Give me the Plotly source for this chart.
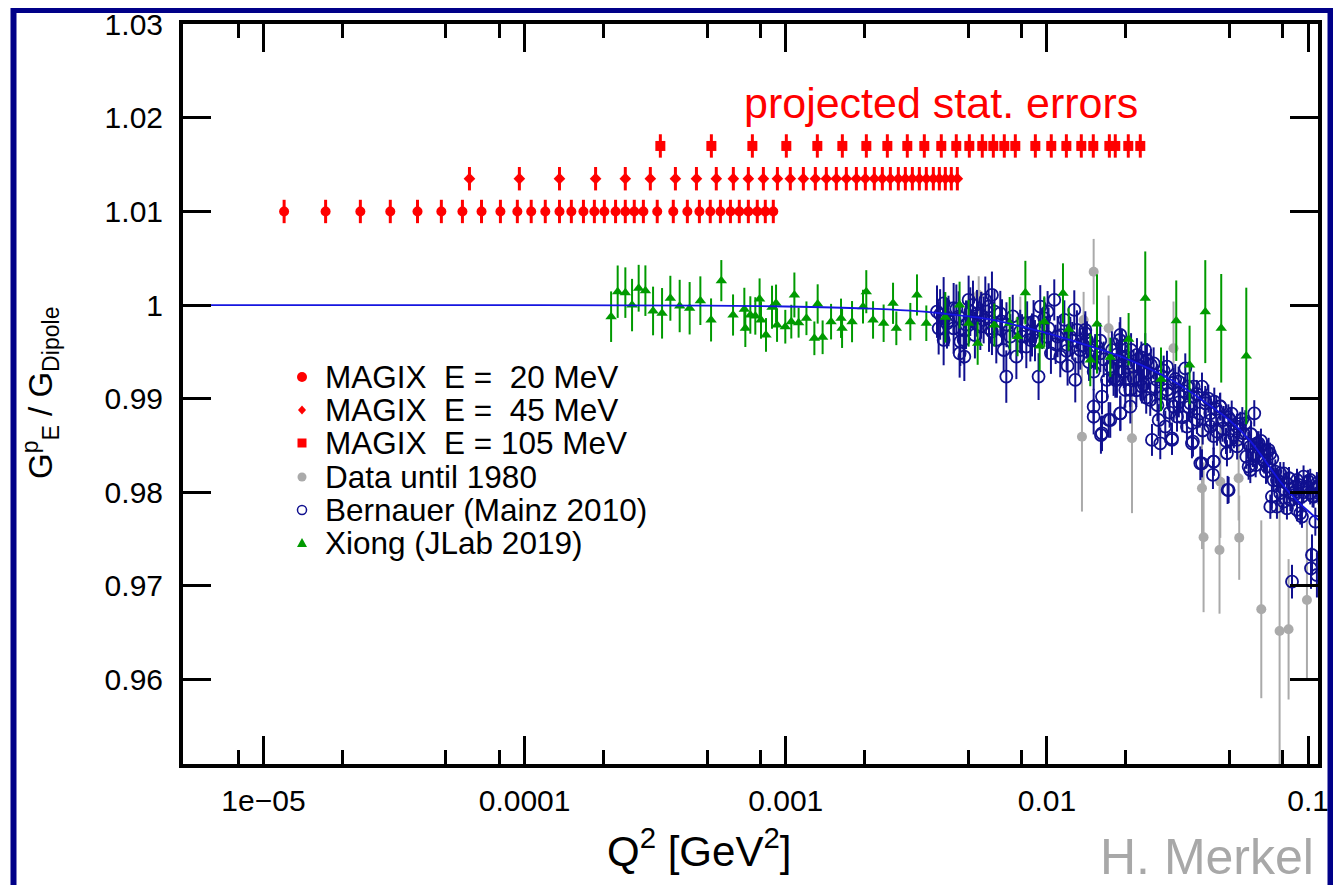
import plotly.graph_objects as go

# ---------------- data ----------------
# MAGIX projected points
magix20_q2 = [1.2e-5, 1.73e-5, 2.35e-5, 3.06e-5, 3.89e-5, 4.8e-5, 5.78e-5, 6.84e-5, 8.08e-5, 9.38e-5,
              1.06e-4, 1.2e-4, 1.36e-4, 1.51e-4, 1.68e-4, 1.85e-4, 2.02e-4, 2.23e-4, 2.43e-4, 2.63e-4,
              2.85e-4, 3.22e-4, 3.71e-4, 4.2e-4, 4.67e-4, 5.14e-4, 5.62e-4, 6.14e-4, 6.64e-4, 7.19e-4,
              7.78e-4, 8.35e-4, 8.96e-4]
magix20_val = 1.010
magix45_q2 = [6.15e-5, 9.55e-5, 1.36e-4, 1.87e-4, 2.43e-4, 3.03e-4, 3.78e-4, 4.55e-4, 5.42e-4, 6.3e-4,
              7.19e-4, 8.21e-4, 9.29e-4, 1.041e-3, 1.168e-3, 1.298e-3, 1.43e-3, 1.562e-3, 1.706e-3, 1.864e-3,
              2.017e-3, 2.183e-3, 2.343e-3, 2.515e-3, 2.698e-3, 2.87e-3, 3.053e-3, 3.247e-3, 3.453e-3, 3.673e-3,
              3.873e-3, 4.083e-3, 4.305e-3, 4.54e-3]
magix45_val = 1.0135
magix105_q2 = [3.31e-4, 5.19e-4, 7.45e-4, 1.005e-3, 1.321e-3, 1.647e-3, 2.035e-3, 2.449e-3, 2.92e-3, 3.393e-3,
               3.94e-3, 4.497e-3, 5.045e-3, 5.656e-3, 6.234e-3, 6.868e-3, 7.568e-3, 9.03e-3, 1.039e-2, 1.187e-2,
               1.354e-2, 1.505e-2, 1.734e-2, 1.827e-2, 2.049e-2, 2.278e-2]
magix105_val = 1.017
magix_err = 0.00125

# Xiong (JLab 2019)
xiong_q2 = [2.144e-4, 2.272e-4, 2.431e-4, 2.579e-4, 2.734e-4, 2.901e-4, 3.104e-4, 3.36e-4, 3.615e-4, 3.925e-4,
            4.285e-4, 4.71e-4, 5.176e-4, 5.666e-4, 6.283e-4, 6.941e-4, 7.002e-4, 7.317e-4, 7.646e-4, 7.94e-4,
            8.04e-4, 8.4e-4, 8.86e-4, 9.18e-4, 9.26e-4, 9.96e-4, 1.05e-3, 1.079e-3, 1.12e-3, 1.2e-3,
            1.287e-3, 1.325e-3, 1.384e-3, 1.491e-3, 1.628e-3, 1.643e-3, 1.794e-3, 1.976e-3, 2.034e-3, 2.159e-3,
            2.37e-3, 2.575e-3, 2.651e-3, 2.999e-3, 3.18e-3, 3.453e-3, 4.083e-3, 4.63e-3, 5.014e-3, 5.43e-3,
            6.29e-3, 7.2e-3, 7.72e-3, 8.27e-3, 9.38e-3, 9.77e-3, 1.152e-2, 1.211e-2, 1.466e-2, 1.555e-2,
            1.749e-2, 2.055e-2, 2.38e-2, 2.734e-2, 3.128e-2, 3.518e-2, 4.04e-2, 4.65e-2, 5.8e-2]
xiong_val = [0.99876, 1.00143, 1.00133, 1.0, 1.0018, 1.00154, 0.99937, 0.99912, 1.00073, 0.9999,
             0.99966, 1.00047, 0.99841, 1.00261, 0.99894, 0.99955, 0.99752, 0.99894, 0.99884, 1.00065,
             0.99841, 0.99681, 0.99977, 1.00019, 0.99787, 0.99769, 0.99823, 1.00108, 0.99812, 0.99859,
             0.99645, 1.00012, 0.99656, 0.99823, 0.99859, 0.99752, 0.99823, 0.99983, 1.00143, 0.99841,
             0.99806, 1.00019, 0.99752, 0.99823, 1.00108, 0.99806, 0.99869, 1.0, 0.99806, 0.99592,
             0.99787, 0.99806, 0.99663, 1.00133, 0.99563, 0.99823, 1.00126, 0.99741, 0.99413, 0.99798,
             0.99442, 0.99635, 1.00073, 0.99207, 0.99833, 0.9936, 0.9993, 0.99752, 0.99456]
xiong_err = [0.0027, 0.0028, 0.0027, 0.0028, 0.0025, 0.0027, 0.0026, 0.0027, 0.0024, 0.0028,
             0.0028, 0.0026, 0.0023, 0.0022, 0.0022, 0.0023, 0.002, 0.002, 0.002, 0.0022,
             0.002, 0.0018, 0.0023, 0.002, 0.0018, 0.0018, 0.0018, 0.0024, 0.0016, 0.0018,
             0.0018, 0.0021, 0.0018, 0.0019, 0.0021, 0.0021, 0.0022, 0.0018, 0.0023, 0.002,
             0.002, 0.0022, 0.0018, 0.002, 0.0022, 0.0019, 0.0027, 0.0025, 0.0025, 0.0023,
             0.0023, 0.0028, 0.0021, 0.0034, 0.0027, 0.0027, 0.0032, 0.0023, 0.0028, 0.0053,
             0.0021, 0.0028, 0.005, 0.0034, 0.0043, 0.0042, 0.0055, 0.0058, 0.0073]

# Data until 1980
old_q2 = [5.48e-3, 7.91e-3, 1.382e-2, 1.51e-2, 1.723e-2, 1.362e-2, 2.117e-2, 3.053e-2, 3.924e-2, 4.612e-2,
          5.42e-2, 3.98e-2, 4.58e-2, 5.45e-2, 6.62e-2, 7.78e-2, 8.42e-2, 9.9e-2]
old_val = [1.00108, 0.99841, 0.99841, 1.00357, 0.99752, 0.98594, 0.98577, 0.99538, 0.98043, 0.98113,
           0.98149, 0.97519, 0.97383, 0.97515, 0.9675, 0.96518, 0.96536, 0.96849]
old_err = [0.002, 0.0025, 0.003, 0.0035, 0.0035, 0.008, 0.008, 0.005, 0.0065, 0.006,
           0.0045, 0.008, 0.0068, 0.0045, 0.0095, 0.015, 0.0075, 0.0085]

# Bernauer (Mainz 2010)
bern_q2 = [3.794e-3, 3.85e-3, 4.023e-3, 4.047e-3, 4.023e-3, 4.394e-3, 4.394e-3, 4.593e-3, 4.633e-3, 4.66e-3,
           4.633e-3, 4.828e-3, 5.014e-3, 5.088e-3, 5.21e-3, 5.398e-3, 5.724e-3, 5.809e-3, 5.98e-3, 6.16e-3,
           6.16e-3, 6.4e-3, 6.63e-3, 6.73e-3, 6.99e-3, 7.64e-3, 8.03e-3, 8.34e-3, 8.89e-3, 8.77e-3,
           9.43e-3, 9.77e-3, 1.006e-2, 1.015e-2, 1.067e-2, 1.036e-2, 9.29e-3, 1.099e-2, 1.166e-2, 1.194e-2,
           1.273e-2, 1.303e-2, 1.284e-2, 1.403e-2, 1.423e-2, 1.475e-2, 1.51e-2, 1.601e-2, 1.698e-2, 1.625e-2,
           1.51e-2, 1.51e-2, 1.625e-2, 1.723e-2, 1.899e-2, 1.938e-2, 1.854e-2, 1.996e-2, 1.91e-2,
           4.143e-3, 4.8e-3, 5.559e-3, 6.83e-3, 7.24e-3, 8.64e-3, 1.125e-2, 1.229e-2, 1.342e-2, 1.554e-2, 1.774e-2,
           1.91e-2, 1.938e-2, 1.882e-2, 1.827e-2, 1.748e-2, 1.91e-2, 2.086e-2, 2.212e-2, 2.38e-2, 2.346e-2,
           2.311e-2, 2.415e-2, 2.487e-2, 2.562e-2, 2.525e-2, 2.717e-2, 2.678e-2, 2.882e-2, 2.882e-2, 2.84e-2,
           3.012e-2, 3.194e-2, 3.241e-2, 3.387e-2, 3.437e-2, 3.592e-2, 3.754e-2, 3.924e-2, 3.867e-2, 4.04e-2,
           4.323e-2, 4.348e-2, 4.374e-2, 4.478e-2, 4.749e-2, 4.919e-2, 4.891e-2, 5.037e-2, 5.342e-2, 5.75e-2,
           6.223e-2, 5.92e-2, 6.37e-2, 6.756e-2, 7.06e-2, 7.379e-2, 7.27e-2, 7.6e-2, 8.06e-2, 8.55e-2,
           8.93e-2, 9.335e-2, 9.61e-2, 0.1019, 0.1081, 0.1066,
           1.61e-2, 3.012e-2, 3.624e-2, 3.924e-2, 4.349e-2, 4.963e-2, 6.009e-2, 6.465e-2, 6.96e-2, 7.17e-2,
           7.82e-2, 8.3e-2, 9.07e-2, 9.475e-2, 0.1035, 0.1026, 0.1081, 8.68e-2, 0.1097,
           1.995e-2, 2.148e-2, 2.278e-2, 2.086e-2, 2.638e-2, 2.717e-2, 3.057e-2, 3.148e-2, 3.54e-2, 3.645e-2,
           4.222e-2, 4.222e-2, 4.611e-2, 5.037e-2, 5.342e-2, 5.664e-2, 6.009e-2, 6.37e-2, 6.96e-2, 7.6e-2,
           7.82e-2, 8.3e-2, 8.8e-2, 9.07e-2, 9.9e-2, 0.1019, 0.105, 8.06e-2, 9.47e-2, 7.49e-2, 0.1097,
           3.9e-3, 4.2e-3, 4.5e-3, 4.9e-3, 5.3e-3, 5.6e-3, 6.0e-3, 6.3e-3,
           7.0e-3, 7.4e-3, 7.9e-3, 8.4e-3, 9.0e-3, 9.6e-3, 1.0e-2,
           1.08e-2, 1.13e-2, 1.19e-2, 1.25e-2, 1.32e-2, 1.38e-2, 1.45e-2, 1.53e-2,
           1.65e-2, 1.75e-2, 1.85e-2, 1.97e-2, 2.05e-2, 2.15e-2, 2.25e-2, 2.35e-2, 2.45e-2,
           2.6e-2, 2.75e-2, 2.9e-2, 3.05e-2, 3.2e-2, 3.35e-2, 3.5e-2, 3.65e-2,
           3.85e-2, 4.05e-2, 4.25e-2, 4.45e-2, 4.7e-2, 4.95e-2, 5.2e-2, 5.5e-2,
           5.9e-2, 6.15e-2, 6.5e-2, 6.8e-2, 7.15e-2,
           7.7e-2, 8.1e-2, 8.45e-2, 8.85e-2, 9.2e-2, 9.6e-2, 0.1, 0.104, 0.108,
           2.0e-2, 2.1e-2, 2.2e-2, 2.3e-2, 2.4e-2, 2.5e-2, 2.65e-2, 2.8e-2, 2.95e-2, 3.1e-2,
           3.3e-2, 3.45e-2, 3.6e-2, 3.75e-2, 3.95e-2, 4.15e-2, 4.35e-2, 4.6e-2, 4.85e-2, 5.1e-2,
           5.35e-2, 5.6e-2, 5.8e-2, 6.05e-2, 6.3e-2, 6.6e-2, 6.9e-2, 7.3e-2,
           1.4e-2, 1.6e-2, 1.8e-2, 1.2e-2]
bern_val = [0.9993, 0.99752, 1.00019, 0.99859, 0.99627, 0.99966, 0.99752, 0.99877, 0.99734, 0.99609,
            0.99485, 0.99449, 1.00055, 0.9993, 1.00001, 0.99912, 0.99841, 1.00055, 0.99983, 1.00108,
            0.99716, 0.99627, 0.99912, 0.99823, 0.99236, 0.99449, 0.99663, 0.99556, 0.99823, 0.99681,
            0.99983, 0.99859, 0.9993, 0.99752, 1.00055, 0.99485, 0.99236, 0.99663, 0.99841, 0.99574,
            0.99948, 0.99734, 0.992, 0.99734, 0.99627, 0.9952, 0.99289, 0.99485, 0.992, 0.99022,
            0.98915, 0.98808, 0.9863, 0.98773, 0.99627, 0.99449, 0.992, 0.99093, 0.98844,
            0.99805, 0.99627, 0.9977, 0.9952, 0.99663, 0.99627, 0.99449, 0.99663, 0.9952, 0.99556, 0.9952,
            0.99681, 0.99556, 0.99413, 0.992, 0.98772, 0.98844, 0.98915, 0.99467, 0.9952, 0.99289,
            0.99129, 0.99413, 0.98986, 0.99378, 0.98559, 0.98523, 0.98772, 0.99342, 0.99093, 0.98701,
            0.98559, 0.99182, 0.99022, 0.99324, 0.98701, 0.98523, 0.98772, 0.99129, 0.9831, 0.98986,
            0.98185, 0.98327, 0.98968, 0.98648, 0.98772, 0.98025, 0.98417, 0.98559, 0.98701, 0.98737,
            0.98844, 0.98274, 0.98523, 0.98345, 0.98452, 0.98131, 0.97954, 0.97847, 0.98203, 0.97918,
            0.9806, 0.97775, 0.98167, 0.9799, 0.98096, 0.97686,
            0.98612, 0.98576, 0.98541, 0.98309, 0.98327, 0.98024, 0.98238, 0.98523, 0.98434, 0.97846,
            0.98203, 0.97829, 0.97811, 0.9774, 0.9733, 0.97188, 0.97116, 0.97045, 0.9806,
            0.99449, 0.99342, 0.992, 0.99093, 0.992, 0.99057, 0.98915, 0.98808, 0.9895, 0.99129,
            0.98844, 0.98701, 0.98915, 0.98772, 0.98559, 0.9863, 0.98488, 0.98381, 0.98274, 0.98131,
            0.9799, 0.98096, 0.9799, 0.98131, 0.9806, 0.98131, 0.97954, 0.979, 0.97954, 0.98221, 0.9799,
            0.999, 0.9983, 0.9996, 0.9979, 0.9968, 0.9989, 0.9975, 0.9993,
            0.9979, 0.9988, 0.9972, 0.9981, 0.9962, 0.9975, 0.9966,
            0.9958, 0.9968, 0.9951, 0.9962, 0.9945, 0.9957, 0.9939, 0.995,
            0.9942, 0.9934, 0.9947, 0.9929, 0.9938, 0.9922, 0.9935, 0.9915, 0.9928,
            0.9912, 0.9924, 0.9905, 0.9917, 0.9896, 0.9908, 0.9891, 0.9902,
            0.9884, 0.9895, 0.9877, 0.9889, 0.9868, 0.988, 0.9861, 0.9873,
            0.9852, 0.984, 0.9847, 0.9833, 0.9841,
            0.9812, 0.9803, 0.9815, 0.9797, 0.9808, 0.98, 0.9812, 0.9796, 0.9806,
            0.9921, 0.9952, 0.9909, 0.9944, 0.9901, 0.9936, 0.9893, 0.993, 0.9885, 0.9921,
            0.988, 0.9913, 0.9874, 0.9905, 0.9866, 0.99, 0.986, 0.9892, 0.9855, 0.9884,
            0.9849, 0.9878, 0.9838, 0.9862, 0.9829, 0.9855, 0.9822, 0.9836,
            0.997, 0.9962, 0.9922, 0.9935]
bern_err = [0.0028, 0.0028, 0.0028, 0.0028, 0.0027, 0.0027, 0.0027, 0.0027, 0.0026, 0.0026,
            0.0026, 0.0026, 0.0026, 0.0026, 0.0026, 0.0025, 0.0025, 0.0025, 0.0025, 0.0025,
            0.0025, 0.0025, 0.0024, 0.0024, 0.0028, 0.0024, 0.0024, 0.0023, 0.0023, 0.0023,
            0.0023, 0.0022, 0.0022, 0.0022, 0.0022, 0.0022, 0.0025, 0.0022, 0.0021, 0.0021,
            0.0021, 0.0021, 0.0024, 0.002, 0.002, 0.002, 0.002, 0.002, 0.0022, 0.0019,
            0.0019, 0.0019, 0.0019, 0.0019, 0.0019, 0.0019, 0.0019, 0.0019, 0.0019,
            0.0027, 0.0026, 0.0025, 0.0024, 0.0024, 0.0023, 0.0022, 0.0021, 0.0021, 0.002, 0.002,
            0.0019, 0.0019, 0.0019, 0.0019, 0.0019, 0.0018, 0.0018, 0.0018, 0.0018, 0.0018,
            0.0018, 0.0018, 0.0017, 0.0017, 0.0017, 0.0017, 0.0017, 0.0017, 0.0017, 0.0017,
            0.0016, 0.0016, 0.0016, 0.0016, 0.0016, 0.0016, 0.0015, 0.0015, 0.0018, 0.0015,
            0.0015, 0.0015, 0.0015, 0.0015, 0.0015, 0.0015, 0.0014, 0.0014, 0.0014, 0.0014,
            0.0014, 0.0014, 0.0013, 0.0013, 0.0013, 0.0013, 0.0013, 0.0013, 0.0012, 0.0012,
            0.0012, 0.0012, 0.0012, 0.0012, 0.0012, 0.0015,
            0.002, 0.0017, 0.0016, 0.0015, 0.0015, 0.0014, 0.0014, 0.0013, 0.0013, 0.0013,
            0.0012, 0.0012, 0.0012, 0.0012, 0.0022, 0.0022, 0.0024, 0.0018, 0.0012,
            0.0019, 0.0018, 0.0018, 0.0018, 0.0017, 0.0017, 0.0016, 0.0016, 0.0016, 0.0016,
            0.0015, 0.0015, 0.0015, 0.0014, 0.0014, 0.0014, 0.0014, 0.0013, 0.0013, 0.0013,
            0.0012, 0.0012, 0.0012, 0.0012, 0.0012, 0.0012, 0.0012, 0.0012, 0.0012, 0.0013, 0.0012,
            0.0027, 0.0027, 0.0026, 0.0026, 0.0025, 0.0025, 0.0025, 0.0024,
            0.0024, 0.0023, 0.0023, 0.0023, 0.0022, 0.0022, 0.0022,
            0.0021, 0.0021, 0.0021, 0.002, 0.002, 0.002, 0.002, 0.0019,
            0.0019, 0.0019, 0.0018, 0.0018, 0.0018, 0.0018, 0.0017, 0.0017, 0.0017,
            0.0017, 0.0016, 0.0016, 0.0016, 0.0016, 0.0015, 0.0015, 0.0015,
            0.0015, 0.0015, 0.0014, 0.0014, 0.0014, 0.0014, 0.0014, 0.0013,
            0.0013, 0.0013, 0.0013, 0.0013, 0.0012,
            0.0012, 0.0012, 0.0012, 0.0012, 0.0012, 0.0012, 0.0012, 0.0012, 0.0012,
            0.0018, 0.0018, 0.0018, 0.0017, 0.0017, 0.0017, 0.0017, 0.0016, 0.0016, 0.0016,
            0.0016, 0.0015, 0.0015, 0.0015, 0.0015, 0.0015, 0.0014, 0.0014, 0.0014, 0.0014,
            0.0014, 0.0013, 0.0013, 0.0013, 0.0013, 0.0013, 0.0013, 0.0012,
            0.002, 0.0019, 0.0019, 0.0021]

# fit curve
fit_q2 = [4.9e-6, 1e-5, 1e-4, 5e-4, 1e-3, 2e-3, 3e-3, 4e-3, 6e-3, 8e-3, 1e-2, 1.5e-2, 2e-2, 3e-2,
          4e-2, 5e-2, 6e-2, 7e-2, 8e-2, 9e-2, 0.1, 0.11]
fit_val = [1.0, 1.0, 1.0, 0.99995, 0.99985, 0.99965, 0.9994, 0.9991, 0.9985, 0.9977, 0.997, 0.9955,
           0.9943, 0.992, 0.9897, 0.9877, 0.9855, 0.983, 0.9808, 0.9792, 0.978, 0.977]

x_tickvals = [1e-5, 1e-4, 1e-3, 1e-2, 1e-1]
x_ticktext = ["1e\u221205", "0.0001", "0.001", "0.01", "0.1"]
x_minor = [8e-6, 2e-5, 5e-5, 8e-5, 2e-4, 5e-4, 8e-4, 2e-3, 5e-3, 8e-3, 2e-2, 5e-2, 8e-2]
y_tickvals = [0.96, 0.97, 0.98, 0.99, 1.0, 1.01, 1.02, 1.03]
y_ticktext = ["0.96", "0.97", "0.98", "0.99", "1", "1.01", "1.02", "1.03"]

legend_labels = ["MAGIX\u00a0\u00a0E\u00a0=\u00a0\u00a020 MeV", "MAGIX\u00a0\u00a0E\u00a0=\u00a0\u00a045 MeV",
                 "MAGIX\u00a0\u00a0E\u00a0=\u00a0105 MeV", "Data until 1980",
                 "Bernauer (Mainz 2010)", "Xiong (JLab 2019)"]

# ---------------- styling ----------------
FONT = "Liberation Sans, Arial, Helvetica, sans-serif"
RED = "#ff0000"
GREEN = "#009a00"
GRAY = "#aaaaaa"
NAVY = "#10108f"
LINE = "#1515e0"
FRAME = "#000088"

OFF = 8                       # page body margin of the html page
W, H = 1341 - OFF, 885 - OFF
# plot-area edges in page pixels
L, R, T, B = 183, 1318, 24, 764


def px(xp):
    return (xp - L) / (R - L)


def py(yp):
    return (B - yp) / (B - T)


fig = go.Figure()

fig.add_trace(go.Scatter(x=old_q2, y=old_val, mode="markers",
                         marker=dict(symbol="circle", size=10, color=GRAY),
                         error_y=dict(type="data", array=old_err, color=GRAY, thickness=2, width=0),
                         showlegend=False))
fig.add_trace(go.Scatter(x=bern_q2, y=bern_val, mode="markers",
                         marker=dict(symbol="circle-open", size=12, color=NAVY, line=dict(width=1.8, color=NAVY)),
                         error_y=dict(type="data", array=bern_err, color=NAVY, thickness=2, width=0),
                         showlegend=False))
fig.add_trace(go.Scatter(x=xiong_q2, y=xiong_val, mode="markers",
                         marker=dict(symbol="triangle-up", size=10, color=GREEN),
                         error_y=dict(type="data", array=xiong_err, color=GREEN, thickness=2, width=0),
                         showlegend=False))
fig.add_trace(go.Scatter(x=fit_q2, y=fit_val, mode="lines", line=dict(color=LINE, width=1.8, shape="spline"),
                         showlegend=False))

for q2, val, sym, sz in [(magix20_q2, magix20_val, "circle", 10),
                         (magix45_q2, magix45_val, "diamond", 9),
                         (magix105_q2, magix105_val, "square", 10)]:
    fig.add_trace(go.Scatter(x=q2, y=[val] * len(q2), mode="markers",
                             marker=dict(symbol=sym, size=sz, color=RED),
                             error_y=dict(type="data", array=[magix_err] * len(q2), color=RED,
                                          thickness=3, width=0),
                             showlegend=False))

axis_common = dict(showline=True, linewidth=4, linecolor="black", mirror="ticks",
                   ticks="inside", ticklen=28, tickwidth=3, tickcolor="black",
                   showgrid=False, zeroline=False, ticklabeloverflow="allow",
                   tickfont=dict(family=FONT, size=30, color="black"))

fig.update_layout(
    width=W, height=H,
    margin=dict(l=L - OFF, r=W - (R - OFF), t=T - OFF, b=H - (B - OFF), autoexpand=False),
    paper_bgcolor="white", plot_bgcolor="white",
    showlegend=False,
    xaxis=dict(type="log", range=[-5.308, -0.962], tickvals=x_tickvals, ticktext=x_ticktext,
               ticklabelstandoff=7,
               minor=dict(tickvals=x_minor, ticks="inside", ticklen=14, tickwidth=3, tickcolor="black",
                          showgrid=False),
               **axis_common),
    yaxis=dict(range=[0.95097, 1.03003], tickvals=y_tickvals, ticktext=y_ticktext,
               ticklabelstandoff=10, **axis_common),
)

annotations = [
    dict(x=px(742), y=py(103), xref="paper", yref="paper", text="projected stat. errors",
         showarrow=False, xanchor="left", yanchor="middle",
         font=dict(family=FONT, size=43, color=RED)),
    dict(x=px(699), y=py(848), xref="paper", yref="paper", text="Q<sup>2</sup> [GeV<sup>2</sup>]",
         showarrow=False, xanchor="center", yanchor="middle",
         font=dict(family=FONT, size=42, color="black")),
    dict(x=px(40), y=py(393), xref="paper", yref="paper",
         text="G<sup>p</sup><sub>E</sub> / G<sub>Dipole</sub>", textangle=-90,
         showarrow=False, xanchor="center", yanchor="middle",
         font=dict(family=FONT, size=33, color="black")),
    dict(x=px(1316), y=py(857), xref="paper", yref="paper", text="H. Merkel",
         showarrow=False, xanchor="right", yanchor="middle",
         font=dict(family=FONT, size=50, color="#a8a8a8")),
]

row_y = [377, 410, 443, 477, 510, 543]
for lab, yy in zip(legend_labels, row_y):
    annotations.append(dict(x=px(323), y=py(yy), xref="paper", yref="paper", text=lab,
                            showarrow=False, xanchor="left", yanchor="middle",
                            font=dict(family=FONT, size=31.5, color="black")))
fig.update_layout(annotations=annotations)

mx = 302
shapes = []
# legend markers
r = 5
shapes.append(dict(type="circle", xref="paper", yref="paper", x0=px(mx - r), x1=px(mx + r),
                   y0=py(row_y[0] + r), y1=py(row_y[0] - r), fillcolor=RED, line=dict(width=0)))
d = 4.5
shapes.append(dict(type="path", xref="paper", yref="paper",
                   path=f"M {px(mx)} {py(row_y[1] - d)} L {px(mx + d - 0.5)} {py(row_y[1])} "
                        f"L {px(mx)} {py(row_y[1] + d)} L {px(mx - d + 0.5)} {py(row_y[1])} Z",
                   fillcolor=RED, line=dict(width=0)))
s = 4.5
shapes.append(dict(type="rect", xref="paper", yref="paper", x0=px(mx - s), x1=px(mx + s),
                   y0=py(row_y[2] + s), y1=py(row_y[2] - s), fillcolor=RED, line=dict(width=0)))
r2 = 4.5
shapes.append(dict(type="circle", xref="paper", yref="paper", x0=px(mx - r2), x1=px(mx + r2),
                   y0=py(row_y[3] + r2), y1=py(row_y[3] - r2), fillcolor=GRAY, line=dict(width=0)))
shapes.append(dict(type="circle", xref="paper", yref="paper", x0=px(mx - r2), x1=px(mx + r2),
                   y0=py(row_y[4] + r2), y1=py(row_y[4] - r2), line=dict(width=1.5, color=NAVY)))
t = 5
shapes.append(dict(type="path", xref="paper", yref="paper",
                   path=f"M {px(mx)} {py(row_y[5] - t)} L {px(mx + t)} {py(row_y[5] + 4)} "
                        f"L {px(mx - t)} {py(row_y[5] + 4)} Z",
                   fillcolor=GREEN, line=dict(width=0)))
# outer dark-blue frame
shapes.append(dict(type="rect", xref="paper", yref="paper", layer="above",
                   x0=px(13.5), x1=px(1330.5), y0=py(905), y1=py(10),
                   line=dict(color=FRAME, width=6), fillcolor="rgba(0,0,0,0)"))
fig.update_layout(shapes=shapes)

fig.write_html("out.html")
